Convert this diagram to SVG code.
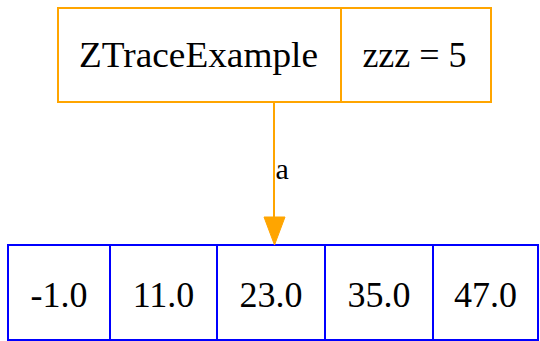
<svg xmlns="http://www.w3.org/2000/svg" width="540" height="341" viewBox="0 0 540 341">
<style>
text{font-family:"Liberation Serif","Times New Roman",serif;fill:#000;text-anchor:middle}
.big{font-size:36px}
.lbl{font-size:30px;text-anchor:start}
.top{fill:#fff;stroke:#ffa500;stroke-width:2}
.arr{fill:#fff;stroke:#0000ff;stroke-width:2}
.edge{stroke:#ffa500;stroke-width:2;fill:none}
</style>
<rect width="540" height="341" fill="#fff"/>
<g id="node_ztrace">
<rect class="top" x="58" y="8" width="433" height="94"/>
<line class="top" x1="341" y1="8" x2="341" y2="102"/>
<text class="big" x="198.5" y="67" textLength="239" lengthAdjust="spacingAndGlyphs">ZTraceExample</text>
<text class="big" x="414.5" y="67">zzz = 5</text>
</g>
<g id="node_array">
<rect class="arr" x="8" y="245" width="530" height="95"/>
<line class="arr" x1="110" y1="245" x2="110" y2="340"/>
<line class="arr" x1="217" y1="245" x2="217" y2="340"/>
<line class="arr" x1="325" y1="245" x2="325" y2="340"/>
<line class="arr" x1="433" y1="245" x2="433" y2="340"/>
<text class="big" x="59" y="307">-1.0</text>
<text class="big" x="163.5" y="307">11.0</text>
<text class="big" x="271" y="307">23.0</text>
<text class="big" x="379" y="307">35.0</text>
<text class="big" x="485.5" y="307">47.0</text>
</g>
<g id="connectors">
<line class="edge" x1="274" y1="103" x2="274" y2="218"/>
<polygon points="264,217 285,217 274.5,245" fill="#ffa500" stroke="#ffa500" stroke-width="1"/>
<text class="lbl" x="275.5" y="179">a</text>
</g>
</svg>
